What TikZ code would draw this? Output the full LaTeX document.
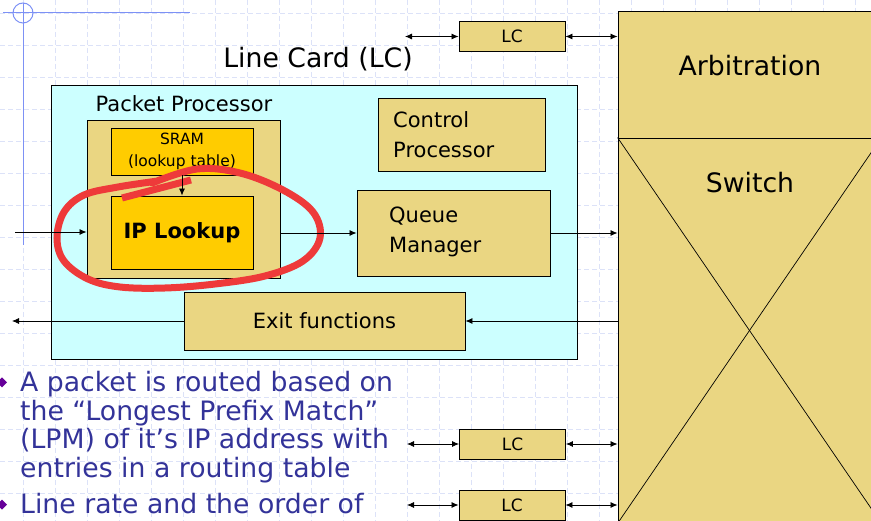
\documentclass[tikz,border=0pt]{standalone}
\usepackage{fontspec}
\setmainfont{DejaVu Sans}
\usetikzlibrary{arrows.meta,positioning}
\definecolor{tanfill}{RGB}{234,214,130}
\definecolor{goldfill}{RGB}{255,204,0}
\definecolor{lccyan}{RGB}{204,255,255}
\definecolor{slideblue}{RGB}{51,51,153}
\definecolor{bulletc}{RGB}{102,0,153}
\definecolor{gridc}{RGB}{220,226,248}
\definecolor{deco}{RGB}{125,145,245}
\definecolor{pen}{RGB}{238,58,58}

\begin{document}
\begin{tikzpicture}[x=1pt,y=-1pt,>={Latex[length=7pt,width=6pt]},
    box/.style={draw,fill=tanfill,line width=0.9pt,inner sep=0pt},
    gold box/.style={box,fill=goldfill},
    lc box/.style={box,minimum width=106pt,minimum height=30pt,font=\fontsize{17}{20}\selectfont},
    gridline/.style={gridc,line width=0.6pt,dash pattern=on 5pt off 3pt},
    link/.style={->,line width=0.8pt},
    bullet text/.style={anchor=base west,inner sep=0pt,slideblue,font=\fontsize{26.7}{29}\selectfont}]

  \useasboundingbox (0,0) rectangle (871,521);
  \clip (0,0) rectangle (871,521);

  % slide background
  \foreach \g in {0,...,27}
    \draw[gridline] ({23+32*\g},0) -- ({23+32*\g},521);
  \foreach \g in {0,...,16}
    \draw[gridline] (0,{13+32*\g}) -- (871,{13+32*\g});
  \draw[deco,line width=1pt] (3,13) -- (190,13);
  \draw[deco,line width=1pt] (23,3) -- (23,245);
  \draw[deco,line width=1pt] (23,13) circle (10);

  % line card
  \node[draw,fill=lccyan,line width=0.9pt,minimum width=526pt,minimum height=274pt] (lc) at (314,222) {};
  \node[font=\fontsize{26.7}{30}\selectfont] (lctitle) at (318,59) {Line Card (LC)};
  \node[font=\fontsize{21}{24}\selectfont] (pptitle) at (184,104) {Packet Processor};

  \node[box,minimum width=193pt,minimum height=158pt] (pp) at (183.5,199) {};
  \node[gold box,minimum width=142pt,minimum height=47pt,align=center,
        font=\fontsize{15.5}{22}\selectfont] (sram) at (182,151.5) {SRAM\\(lookup table)};
  \node[gold box,minimum width=142pt,minimum height=73pt,
        font=\fontsize{21}{24}\selectfont\bfseries] (iplookup) at (182,232.5) {IP Lookup};

  \node[box,minimum width=167pt,minimum height=73pt] (ctrl) at (461.5,134.5) {};
  \node[anchor=west,align=left,inner sep=0pt,font=\fontsize{21}{30}\selectfont] (ctrltxt) at (393,135) {Control\\Processor};
  \node[box,minimum width=193pt,minimum height=86pt] (qm) at (453.5,233) {};
  \node[anchor=west,align=left,inner sep=0pt,font=\fontsize{21}{30}\selectfont] (qmtxt) at (389,232) {Queue\\Manager};
  \node[box,minimum width=281pt,minimum height=58pt,font=\fontsize{21}{24}\selectfont] (exitf) at (324.5,321) {Exit functions};

  % arbitration and switch
  \node[box,minimum width=263pt,minimum height=127pt] (arb) at (749.5,74.5) {};
  \node[font=\fontsize{26.7}{30}\selectfont] (arbtxt) at (750,66) {Arbitration};
  \node[box,minimum width=263pt,minimum height=385pt] (sw) at (749.5,330.5) {};
  \draw[line width=0.7pt] (sw.north west) -- (sw.south east);
  \draw[line width=0.7pt] (sw.south west) -- (sw.north east);
  \node[font=\fontsize{26.7}{30}\selectfont] (swtxt) at (750,183) {Switch};

  % other line cards
  \node[lc box] (lcA) at (512,36.5) {LC};
  \node[lc box] (lcB) at (512.5,444) {LC};
  \node[lc box] (lcC) at (512,505) {LC};
  \coordinate (inA) at (405,36.5);
  \coordinate (inB) at (407,444);
  \coordinate (inC) at (407,505);

  % red hand-drawn mark
  \draw[pen,line width=7pt] (122,198) -- (191,180);
  \draw[pen,line width=7pt,line cap=round] plot[smooth,tension=0.6] coordinates {
    (152,183) (197,169) (240,173) (283,190) (313,212) (320,238) (303,261)
    (265,276) (215,284) (165,288) (120,287) (88,279) (64,261) (57,238)
    (64,212) (84,195) (118,187) (158,181)};

  % connectors
  \coordinate (in) at (15,232);
  \coordinate (out) at (12,321);
  \draw[link] (in) -- (in -| pp.west);
  \draw[link] (sram) -- (iplookup);
  \draw[link] (pp.east |- qm.west) -- (qm.west);
  \draw[link] (qm.east) -- (qm.east -| sw.west);
  \draw[link] (exitf.east -| sw.west) -- (exitf.east);
  \draw[link] (exitf.west) -- (out);
  \draw[link,<->] (inA) -- (lcA.west);
  \draw[link,<->] (lcA.east) -- (lcA.east -| arb.west);
  \draw[link,<->] (inB) -- (lcB.west);
  \draw[link,<->] (lcB.east) -- (lcB.east -| sw.west);
  \draw[link,<->] (inC) -- (lcC.west);
  \draw[link,<->] (lcC.east) -- (lcC.east -| sw.west);

  % bullets
  \fill[bulletc] (2,377.5) -- (7,382.5) -- (2,387.5) -- (-3,382.5) -- cycle;
  \fill[bulletc] (2,499.5) -- (7,504.5) -- (2,509.5) -- (-3,504.5) -- cycle;
  \node[bullet text] (bl1) at (20,392) {A packet is routed based on};
  \node[bullet text] (bl2) at (20,420.5) {the “Longest Prefix Match”};
  \node[bullet text] (bl3) at (20,449) {(LPM) of it’s IP address with};
  \node[bullet text] (bl4) at (20,478) {entries in a routing table};
  \node[bullet text] (bl5) at (20,513) {Line rate and the order of};
\end{tikzpicture}
\end{document}
